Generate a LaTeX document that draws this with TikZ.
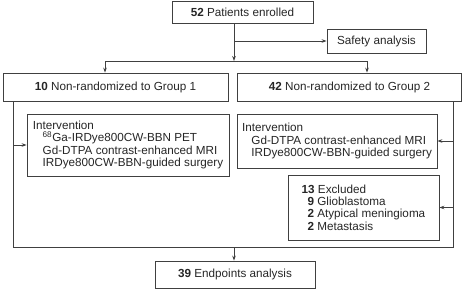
\documentclass[tikz,border=0pt]{standalone}
\usepackage{fontspec}
\setmainfont{Liberation Sans}
\usetikzlibrary{arrows.meta,positioning}

\begin{document}
\begin{tikzpicture}[x=1pt,y=-1pt,>={Stealth[length=5pt,width=3.6pt]},
    box/.style={rectangle, draw=black!75, line width=0.8pt, inner sep=2pt, align=center, text=black!85, font=\fontsize{11.7}{12.4}\selectfont},
    lst/.style={box, align=left},
    ln/.style={draw=black!75, line width=0.8pt},
    ar/.style={ln,->}]
    \useasboundingbox (0,0) rectangle (463,289);
    % boxes
    \node [box, minimum width=141pt, minimum height=22pt] (enrol) at (242.5,12) {\textbf{52} Patients enrolled};
    \node [box, minimum width=99pt, minimum height=24pt] (safety) at (376.5,41) {Safety analysis};
    \node [box, minimum width=225pt, minimum height=28pt] (grp1) at (115.5,87) {\textbf{10} Non-randomized to Group 1};
    \node [box, minimum width=224pt, minimum height=28pt] (grp2) at (349.5,87) {\textbf{42} Non-randomized to Group 2};
    \node [lst, minimum width=202pt, minimum height=62pt] (int1) at (128,145) {Intervention\\
        \hspace*{0.85em}\textsuperscript{68}Ga-IRDye800CW-BBN PET\\
        \hspace*{0.85em}Gd-DTPA contrast-enhanced MRI\\
        \hspace*{0.85em}IRDye800CW-BBN-guided surgery};
    \node [lst, minimum width=200pt, minimum height=54pt] (int2) at (337,141) {Intervention\\
        \hspace*{0.8em}Gd-DTPA contrast-enhanced MRI\\
        \hspace*{0.8em}IRDye800CW-BBN-guided surgery};
    \node [lst, minimum width=151pt, minimum height=65pt] (excl) at (363.5,207.5) {\textbf{13} Excluded\\
        \hspace*{0.5em}\textbf{9} Glioblastoma\\
        \hspace*{0.5em}\textbf{2} Atypical meningioma\\
        \hspace*{0.5em}\textbf{2} Metastasis};
    \node [box, minimum width=160pt, minimum height=27pt] (endp) at (235,274.5) {\textbf{39} Endpoints analysis};
    % junctions
    \coordinate (split) at (234,61);
    \coordinate (gl) at (105,61);
    \coordinate (gr) at (367,61);
    \coordinate (bl) at (13,247);
    \coordinate (br) at (453,247);
    \coordinate (join) at (234,247);
    % connectors
    \draw [ar] (enrol.south -| split) -- (split);
    \draw [ar] (split |- safety.west) -- (safety.west);
    \draw [ln] (gl) -- (gr);
    \draw [ar] (gl) -- (gl |- grp1.north);
    \draw [ar] (gr) -- (gr |- grp2.north);
    \draw [ln] (grp1.south -| bl) -- (bl) -- (br) -- (grp2.south -| br);
    \draw [ar] (bl |- int1.west) -- (int1.west);
    \draw [ar] (br |- int2.east) -- (int2.east);
    \draw [ar] (br |- excl.east) -- (excl.east);
    \draw [ar] (join) -- (join |- endp.north);
\end{tikzpicture}
\end{document}
